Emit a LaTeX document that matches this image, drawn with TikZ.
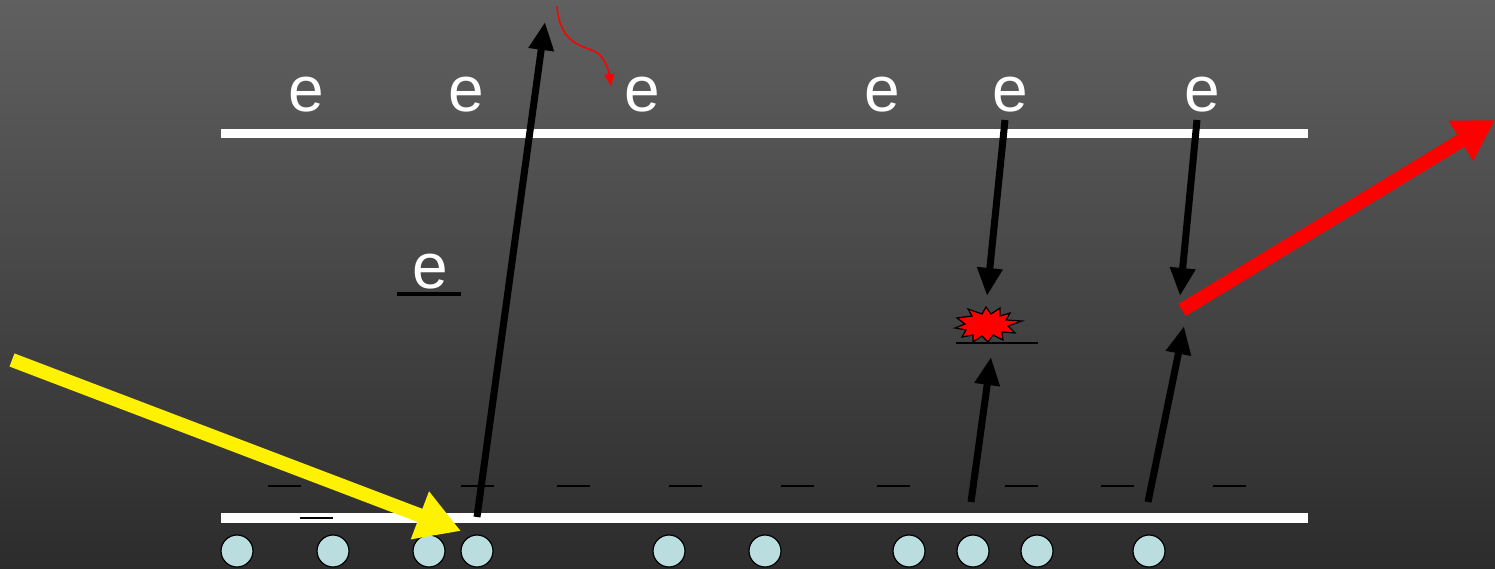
\documentclass[tikz,border=0pt]{standalone}
\usepackage{fontspec}
\setmainfont{Liberation Sans}
\usetikzlibrary{arrows.meta}
\definecolor{bgtop}{RGB}{96,96,96}
\definecolor{bgbot}{RGB}{44,44,44}
\definecolor{atom}{RGB}{186,222,224}
\definecolor{burst}{RGB}{255,0,0}
\begin{document}
\begin{tikzpicture}[x=1pt,y=-1pt,
  elec/.style={text=white,font=\fontsize{64}{64}\selectfont,inner sep=0pt,anchor=base},
  band/.style={white,line width=9pt},
  level/.style={black,line width=1.6pt},
  atomc/.style={circle,draw=black,line width=1.2pt,fill=atom,minimum size=32pt,inner sep=0pt},
  jump/.style={black,line width=7pt,-{Triangle[length=28pt,width=24pt]}},
  photon/.style={line width=14pt,-{Triangle[length=44pt,width=48pt]}}]
\useasboundingbox (0,0) rectangle (1495,569);
\shade[top color=bgtop,bottom color=bgbot] (0,0) rectangle (1495,569);
% bands
\draw[band] (221,134) -- (1308,134);
\draw[band,line width=10pt] (221,518) -- (1308,518);
% dashes
\foreach \x in {268,461,557,669,781,877,1005,1101,1213}
  \draw[level] (\x,486) -- ++(33,0);
\draw[level,line width=2.5pt] (300,518) -- (333,518);
% electrons
\foreach \n/\x in {e1/306,e2/466,e3/642,e4/882,e5/1010,e6/1202}
  \node[elec] (\n) at (\x,112) {e};
\node[elec] (em) at (430,288) {e};
\draw[black,line width=4pt] (397,294) -- (461,294);
% atoms
\foreach \n/\x in {a1/237,a2/333,a3/429,a4/477,a5/669,a6/765,a7/909,a8/973,a9/1037,a10/1149}
  \node[atomc] (\n) at (\x,551) {};
% coordinates
\coordinate (j1s) at (477,517);
\coordinate (j1e) at (545,22);
\coordinate (j2s) at (1005,120);
\coordinate (j2e) at (987,296);
\coordinate (j3s) at (1197,120);
\coordinate (j3e) at (1180,296);
\coordinate (j4s) at (971,502);
\coordinate (j4e) at (991,357);
\coordinate (j5s) at (1148,502);
\coordinate (j5e) at (1184,326);
\draw[jump] (j1s) -- (j1e);
\draw[jump] (j2s) -- (j2e);
\draw[jump] (j3s) -- (j3e);
\draw[jump] (j4s) -- (j4e);
\draw[jump] (j5s) -- (j5e);
% starburst
\coordinate (sb) at (988,327);
\draw[fill=burst,draw=black,line width=1.2pt,line join=miter]
  (957,318) -- (972,316) -- (968,309) -- (982,314) -- (986,307) -- (991,314) -- (1000,308)
  -- (1000,316) -- (1010,313) -- (1006,320) -- (1022,321) -- (1008,326) -- (1015,333)
  -- (1002,332) -- (1003,340) -- (993,335) -- (988,342) -- (982,336) -- (973,342)
  -- (973,335) -- (962,337) -- (966,330) -- (955,328) -- (965,324) -- cycle;
\draw[black,line width=1.6pt] (956,343) -- (1038,343);
% photons
\coordinate (ys) at (12,360);
\coordinate (ye) at (461,531);
\draw[photon,yellow,line cap=butt] (ys) -- (ye);
\coordinate (rs) at (1182,310);
\coordinate (re) at (1495,120);
\draw[photon,red,-{Triangle[length=40pt,width=44pt]}] (rs) -- (re);
% thin curved red arrow
\coordinate (cs) at (557,6);
\coordinate (ce) at (611,86);
\draw[red,line width=1.5pt,-{Triangle[length=12pt,width=10pt]}]
  (cs) .. controls (560,50) and (590,45) .. (600,55) .. controls (606,62) and (609,72) .. (ce);
\end{tikzpicture}
\end{document}
